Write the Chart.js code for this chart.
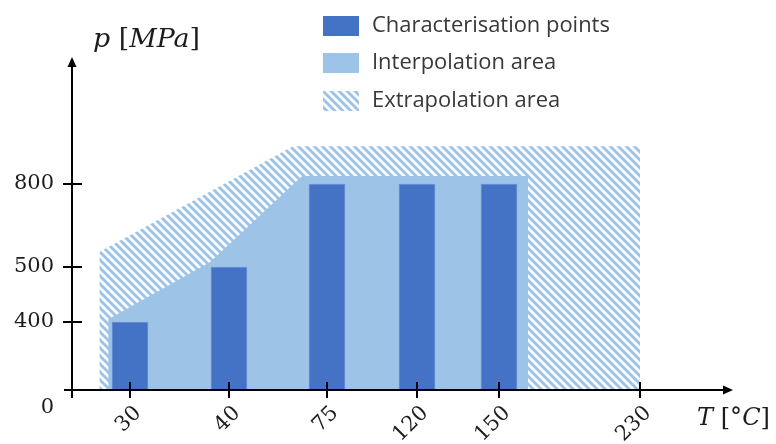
<!DOCTYPE html>
<html><head><meta charset="utf-8">
<script src="https://cdn.jsdelivr.net/npm/chart.js@4.4.0/dist/chart.umd.min.js"></script>
<style>html,body{margin:0;padding:0;background:#fff}#wrap{width:776px;height:444px}</style>
</head><body><div id="wrap"><canvas id="c" width="776" height="444"></canvas></div>
<script>
// ---- data ----
const temperatureTicks = [30, 40, 75, 120, 150, 230];
const pressureTicks = [0, 400, 500, 800];
const charTemps = [30, 40, 75, 120, 150];
const charPressures = [400, 500, 800, 800, 800];
const interpTemps = [27.8, 38.1, 66.1, 166.5];
const interpPressures = [405, 518, 829, 829];
const extrapTemps = [26.9, 62.9, 230];
const extrapPressures = [554, 936, 936];
const seriesNames = ['Characterisation points', 'Interpolation area', 'Extrapolation area'];
const xTitle = [['T', true], [' [°', false], ['C', true], [']', false]];
const yTitle = [['p', true], [' [', false], ['MPa', true], [']', false]];

// ---- styles ----
const C_BAR = '#4472C4', C_BAR_EDGE = '#6F95D8', C_AREA = '#9DC3E6', C_TEXT = '#1c1c1c';

// schematic (non-uniform) axes: value -> fraction of axis length
const AXIS_STOPS = {
  x: [[24.14, 0], [30, 0.08775], [40, 0.23752], [75, 0.38578], [120, 0.52194], [150, 0.64599], [230, 0.85930], [282.8, 1]],
  y: [[0, 0], [400, 0.2042], [500, 0.3694], [800, 0.6186], [1259, 1]]
};
function pw(stops, v, a, b) {
  let i = 0;
  if (v >= stops[stops.length - 1][a]) i = stops.length - 2;
  else if (v > stops[0][a]) { while (i < stops.length - 2 && v > stops[i + 1][a]) i++; }
  const s0 = stops[i], s1 = stops[i + 1];
  return s0[b] + (v - s0[a]) * (s1[b] - s0[b]) / (s1[a] - s0[a]);
}
class PiecewiseScale extends Chart.LinearScale {
  getPixelForValue(value) {
    if (value === null || value === undefined || isNaN(value)) return NaN;
    return this.getPixelForDecimal(pw(AXIS_STOPS[this.id], value, 0, 1));
  }
  getValueForPixel(pixel) {
    return pw(AXIS_STOPS[this.id], this.getDecimalForPixel(pixel), 1, 0);
  }
}
PiecewiseScale.id = 'piecewise';
PiecewiseScale.defaults = Chart.LinearScale.defaults;
Chart.register(PiecewiseScale);

const canvas = document.getElementById('c');
const mainCtx = canvas.getContext('2d');
function makeHatch(period, width, color) {
  const c = document.createElement('canvas');
  c.width = c.height = period;
  const g = c.getContext('2d');
  g.strokeStyle = color; g.lineWidth = width;
  g.beginPath();
  for (let k = -1; k <= 1; k++) { g.moveTo(k * period - 2, -2); g.lineTo(k * period + period + 2, period + 2); }
  g.stroke();
  return mainCtx.createPattern(c, 'repeat');
}
const hatch = makeHatch(8, 2.9, C_AREA);

function drawMath(ctx, parts, x, y, size) {
  let cx = x;
  parts.forEach(([t, it]) => {
    ctx.font = (it ? 'italic ' : '') + size + 'px "DejaVu Serif"';
    ctx.fillText(t, cx, y);
    cx += ctx.measureText(t).width;
  });
}
function mathWidth(ctx, parts, size) {
  let w = 0;
  parts.forEach(([t, it]) => { ctx.font = (it ? 'italic ' : '') + size + 'px "DejaVu Serif"'; w += ctx.measureText(t).width; });
  return w;
}

const decor = {
  id: 'decor',
  afterDatasetsDraw(chart) {
    const { ctx, chartArea: a, scales: { x, y } } = chart;
    const ox = a.left, oy = y.getPixelForValue(0);
    ctx.save();
    ctx.strokeStyle = '#000'; ctx.fillStyle = '#000'; ctx.lineWidth = 2;
    const ln = (x1, y1, x2, y2) => { ctx.beginPath(); ctx.moveTo(x1, y1); ctx.lineTo(x2, y2); ctx.stroke(); };
    ln(ox, oy + 8, ox, a.top + 6);
    ln(ox - 8, oy, a.right - 6, oy);
    ctx.beginPath(); ctx.moveTo(ox, a.top); ctx.lineTo(ox - 4.5, a.top + 10); ctx.lineTo(ox + 4.5, a.top + 10); ctx.closePath(); ctx.fill();
    ctx.beginPath(); ctx.moveTo(a.right, oy); ctx.lineTo(a.right - 10, oy - 4.5); ctx.lineTo(a.right - 10, oy + 4.5); ctx.closePath(); ctx.fill();
    x.ticks.forEach(t => { const px = x.getPixelForValue(t.value); ln(px, oy - 8, px, oy + 8); });
    y.ticks.forEach(t => { if (t.value === 0) return; const py = y.getPixelForValue(t.value); ln(ox - 9, py, ox + 10, py); });

    // axis titles
    ctx.fillStyle = C_TEXT; ctx.textBaseline = 'alphabetic'; ctx.textAlign = 'left';
    let s = 24 * 107 / mathWidth(ctx, yTitle, 24);
    drawMath(ctx, yTitle, 93, 47, s);
    s = 24 * 73 / mathWidth(ctx, xTitle, 24);
    drawMath(ctx, xTitle, 697, 425, s);

    // legend
    const rows = [26, 63, 101];
    const fills = [C_BAR, C_AREA, hatch];
    ctx.font = '100px "Open Sans"';
    const fs = 100 * 238 / ctx.measureText(seriesNames[0]).width;
    rows.forEach((ry, i) => {
      ctx.fillStyle = fills[i];
      ctx.fillRect(323, ry - 10, 36, 20);
      ctx.fillStyle = '#383838';
      ctx.font = fs + 'px "Open Sans"';
      ctx.textBaseline = 'middle';
      ctx.fillText(seriesNames[i], 372, ry);
    });
    ctx.restore();
  }
};

new Chart(canvas, {
  type: 'bar',
  data: {
    datasets: [
      { type: 'bar', label: seriesNames[0], order: 0,
        data: charTemps.map((t, i) => ({ x: t, y: charPressures[i] })),
        backgroundColor: C_BAR, borderColor: C_BAR_EDGE, borderWidth: 1, barThickness: 36 },
      { type: 'line', label: seriesNames[1], order: 1,
        data: interpTemps.map((t, i) => ({ x: t, y: interpPressures[i] })),
        borderColor: 'rgba(0,0,0,0)', borderWidth: 0, pointRadius: 0, tension: 0,
        fill: 'origin', backgroundColor: C_AREA },
      { type: 'line', label: seriesNames[2], order: 2,
        data: extrapTemps.map((t, i) => ({ x: t, y: extrapPressures[i] })),
        borderColor: 'rgba(0,0,0,0)', borderWidth: 0, pointRadius: 0, tension: 0,
        fill: 'origin', backgroundColor: hatch }
    ]
  },
  options: {
    responsive: false, devicePixelRatio: 1, animation: false, events: [],
    layout: { padding: { top: 57, right: 43, left: 0, bottom: 0 } },
    plugins: { legend: { display: false }, tooltip: { enabled: false } },
    scales: {
      x: { type: 'piecewise', min: 24.14, max: 282.8,
        grid: { display: false, drawTicks: false }, border: { display: false },
        afterBuildTicks: s => { s.ticks = temperatureTicks.map(v => ({ value: v })); },
        afterFit: s => { s.height = 54; },
        ticks: { autoSkip: false, minRotation: 45, maxRotation: 45, labelOffset: 8, padding: 11,
          color: C_TEXT, font: { family: 'DejaVu Serif', size: 21 }, callback: v => String(v) } },
      y: { type: 'piecewise', min: 0, max: 1259,
        grid: { display: false, drawTicks: false }, border: { display: false },
        afterBuildTicks: s => { s.ticks = pressureTicks.map(v => ({ value: v })); },
        afterFit: s => { s.width = 72; },
        ticks: { autoSkip: false, padding: 18, color: C_TEXT,
          font: { family: 'DejaVu Serif', size: 21, lineHeight: 1.65 },
          callback: v => v === 0 ? ['', '0'] : String(v) } }
    }
  },
  plugins: [decor]
});
</script></body></html>
